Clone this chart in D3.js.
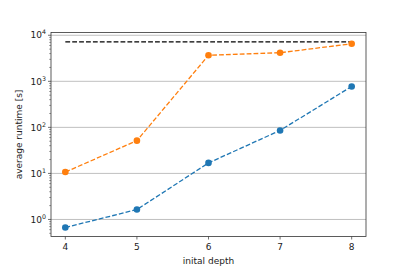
<!DOCTYPE html>
<html>
<head>
<meta charset="utf-8">
<script src="https://cdn.jsdelivr.net/npm/d3@7"></script>
<style>
  body { margin: 0; background: #fff; }
  svg { font-family: "DejaVu Sans", sans-serif; }
</style>
</head>
<body>
<svg id="chart" width="407" height="271"></svg>
<script>
const depths = [4, 5, 6, 7, 8];
const runtimeBlue = [0.67, 1.64, 16.9, 85.7, 773];
const runtimeOrange = [10.7, 51.4, 3670, 4180, 6530];
const timeLimit = 7200;
const yTickExps = [0, 1, 2, 3, 4];

const svg = d3.select("#chart"),
  margin = { top: 32.5, right: 41, bottom: 34.5, left: 51 },
  width = 407 - margin.left - margin.right,
  height = 271 - margin.top - margin.bottom,
  fontSize = 9;

const g = svg.append("g").attr("transform", `translate(${margin.left},${margin.top})`);

// matplotlib-ish 5% margins
const x = d3.scaleLinear().domain([3.8, 8.2]).range([0, width]);
const y = d3.scaleLog().domain([Math.pow(10, -0.37), Math.pow(10, 4.06)]).range([height, 0]);

// horizontal grid at decades
g.append("g")
  .selectAll("line")
  .data(yTickExps)
  .enter()
  .append("line")
  .attr("x1", 0)
  .attr("x2", width)
  .attr("y1", (d) => y(Math.pow(10, d)))
  .attr("y2", (d) => y(Math.pow(10, d)))
  .attr("stroke", "#b0b0b0")
  .attr("stroke-width", 0.8);

// minor ticks
const minor = [];
for (let e = -1; e <= 4; e++) {
  for (let m = 2; m <= 9; m++) {
    const v = m * Math.pow(10, e);
    if (v >= y.domain()[0] && v <= y.domain()[1]) minor.push(v);
  }
}
g.append("g")
  .selectAll("line")
  .data(minor)
  .enter()
  .append("line")
  .attr("x1", -1.8)
  .attr("x2", 0)
  .attr("y1", (d) => y(d))
  .attr("y2", (d) => y(d))
  .attr("stroke", "#333")
  .attr("stroke-width", 0.5);

// y axis major ticks and labels
const yt = g.append("g").selectAll("g").data(yTickExps).enter().append("g")
  .attr("transform", (d) => `translate(0,${y(Math.pow(10, d))})`);
yt.append("line").attr("x1", -3).attr("x2", 0).attr("stroke", "#333").attr("stroke-width", 0.7);
const ytext = yt.append("text")
  .attr("x", -5)
  .attr("y", 3.2)
  .attr("text-anchor", "end")
  .attr("font-size", fontSize)
  .attr("fill", "#222");
ytext.append("tspan").text("10");
ytext.append("tspan").attr("dy", -4).attr("font-size", 6.3).text((d) => d);

// x axis ticks
const xt = g.append("g").selectAll("g").data(depths).enter().append("g")
  .attr("transform", (d) => `translate(${x(d)},${height})`);
xt.append("line").attr("y1", 0).attr("y2", 3).attr("stroke", "#333").attr("stroke-width", 0.7);
xt.append("text")
  .attr("y", 13.5)
  .attr("text-anchor", "middle")
  .attr("font-size", fontSize)
  .attr("fill", "#222")
  .text((d) => d);

// time limit line
g.append("line")
  .attr("x1", x(4))
  .attr("x2", x(8))
  .attr("y1", y(timeLimit))
  .attr("y2", y(timeLimit))
  .attr("stroke", "#000")
  .attr("stroke-width", 1.3)
  .attr("stroke-dasharray", "4.8,2.1");

const line = d3.line().x((d, i) => x(depths[i])).y((d) => y(d));

function drawSeries(values, colour) {
  g.append("path")
    .datum(values)
    .attr("d", line)
    .attr("fill", "none")
    .attr("stroke", colour)
    .attr("stroke-width", 1.3)
    .attr("stroke-dasharray", "4.8,2.1");
  g.append("g")
    .selectAll("circle")
    .data(values)
    .enter()
    .append("circle")
    .attr("cx", (d, i) => x(depths[i]))
    .attr("cy", (d) => y(d))
    .attr("r", 3.3)
    .attr("fill", colour);
}

drawSeries(runtimeBlue, "#1f77b4");
drawSeries(runtimeOrange, "#ff7f0e");

// frame
g.append("rect")
  .attr("width", width)
  .attr("height", height)
  .attr("fill", "none")
  .attr("stroke", "#333")
  .attr("stroke-width", 0.8);

// labels
svg.append("text")
  .attr("x", margin.left + width / 2)
  .attr("y", 264)
  .attr("text-anchor", "middle")
  .attr("font-size", fontSize)
  .attr("fill", "#222")
  .text("inital depth");

svg.append("text")
  .attr("transform", `translate(22,${margin.top + height / 2}) rotate(-90)`)
  .attr("text-anchor", "middle")
  .attr("font-size", fontSize)
  .attr("fill", "#222")
  .text("average runtime [s]");
</script>
</body>
</html>
